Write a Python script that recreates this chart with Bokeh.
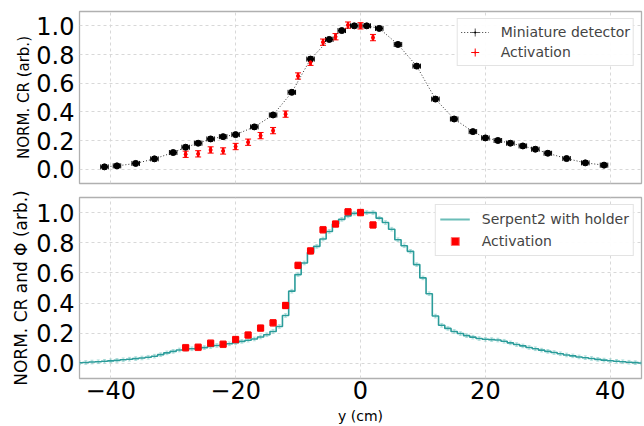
from bokeh.plotting import figure
from bokeh.layouts import column
from bokeh.models import (ColumnDataSource, Whisker, TeeHead, FixedTicker,
                          PrintfTickFormatter, Legend, LegendItem)
from bokeh.embed import file_html
from bokeh.resources import INLINE

# ---------------- data ----------------
mini_y_cm = [-41, -39, -36, -33, -30, -28, -26, -24, -22, -20, -17, -14, -11, -8, -5, -3,
             -1, 1, 3, 6, 9, 12, 15, 18, 20, 22, 24, 26, 28, 30, 33, 36, 39]
mini_cr = [0.016, 0.023, 0.040, 0.072, 0.116, 0.153, 0.181, 0.211, 0.227, 0.241, 0.295,
           0.378, 0.536, 0.768, 0.905, 0.967, 1.0, 1.0, 0.982, 0.870, 0.719, 0.489, 0.350,
           0.262, 0.218, 0.200, 0.181, 0.162, 0.139, 0.111, 0.074, 0.044, 0.028]
mini_err_cr = 0.015
mini_err_cm = 0.6

act_y_cm = [-28, -26, -24, -22, -20, -18, -16, -14, -12, -10, -8, -6, -4, -2, 0, 2]
act_cr = [0.104, 0.107, 0.134, 0.127, 0.158, 0.188, 0.234, 0.269, 0.384, 0.650, 0.746,
          0.886, 0.924, 1.005, 1.0, 0.918]
act_err_cr = 0.022
act_err_cm = 0.5

serpent_y_cm = list(range(-45, 46))
serpent_phi = [0.004, 0.006, 0.009, 0.011, 0.014, 0.017, 0.020, 0.024, 0.028, 0.032,
               0.036, 0.041, 0.048, 0.058, 0.070, 0.080, 0.089, 0.094, 0.097, 0.100,
               0.105, 0.112, 0.119, 0.124, 0.130, 0.138, 0.146, 0.154, 0.162, 0.175,
               0.190, 0.212, 0.245, 0.318, 0.479, 0.589, 0.666, 0.735, 0.776, 0.825,
               0.875, 0.925, 0.955, 0.978, 0.995, 1.0, 1.0, 1.0, 0.963, 0.934,
               0.890, 0.820, 0.780, 0.743, 0.655, 0.567, 0.462, 0.314, 0.253, 0.232,
               0.212, 0.198, 0.184, 0.174, 0.165, 0.160, 0.158, 0.155, 0.147, 0.136,
               0.125, 0.116, 0.106, 0.097, 0.088, 0.080, 0.072, 0.064, 0.056, 0.050,
               0.043, 0.038, 0.033, 0.027, 0.022, 0.018, 0.014, 0.011, 0.008, 0.005,
               0.003]
serpent_err = 0.012

x_ticks = [-40, -20, 0, 20, 40]
x_tick_labels = ["\u221240", "\u221220", "0", "20", "40"]
y_ticks = [0.0, 0.2, 0.4, 0.6, 0.8, 1.0]

FONT = "DejaVu Sans"
TEAL = "#2a9c9a"
NAN = float("nan")


def style(p):
    p.outline_line_color = "#b0b0b0"
    p.outline_line_width = 1.3
    p.background_fill_color = "white"
    p.border_fill_color = "white"
    for ax in p.axis:
        ax.axis_line_color = None
        ax.major_tick_line_color = None
        ax.minor_tick_line_color = None
        ax.major_tick_out = 0
        ax.major_tick_in = 0
        ax.major_label_text_font = FONT
        ax.major_label_text_font_size = "24px"
        ax.major_label_text_color = "black"
        ax.axis_label_text_font = FONT
        ax.axis_label_text_font_style = "normal"
        ax.axis_label_text_color = "black"
    p.xaxis.ticker = FixedTicker(ticks=x_ticks)
    p.xaxis.major_label_overrides = dict(zip(x_ticks, x_tick_labels))
    p.yaxis.ticker = FixedTicker(ticks=y_ticks)
    p.yaxis.formatter = PrintfTickFormatter(format="%.1f")
    p.yaxis.major_label_standoff = 5
    p.xgrid.ticker = FixedTicker(ticks=x_ticks)
    p.ygrid.ticker = FixedTicker(ticks=y_ticks)
    for g in p.grid:
        g.grid_line_color = "#d8d8d8"
        g.grid_line_dash = "3 3"
        g.grid_line_width = 1


def add_err(p, xs, ys, ex, ey, color, width=1.0, head=5, alpha=1.0, hwidth=None):
    src = ColumnDataSource(dict(
        x=xs, y=ys,
        xlo=[v - ex for v in xs], xhi=[v + ex for v in xs],
        ylo=[v - ey for v in ys], yhi=[v + ey for v in ys]))
    for dim, base, lo, hi, lw in (("height", "x", "ylo", "yhi", width),
                                  ("width", "y", "xlo", "xhi", hwidth or width)):
        w = Whisker(source=src, base=base, lower=lo, upper=hi, dimension=dim,
                    line_color=color, line_width=lw, line_alpha=alpha,
                    lower_head=TeeHead(size=head, line_color=color, line_width=1, line_alpha=alpha),
                    upper_head=TeeHead(size=head, line_color=color, line_width=1, line_alpha=alpha))
        p.add_layout(w)


def legend(items, glyph_width, padding, spacing):
    return Legend(items=items, location="top_right", margin=7, padding=padding,
                  spacing=spacing, label_height=20, glyph_height=20,
                  glyph_width=glyph_width, label_standoff=12,
                  label_text_font=FONT, label_text_font_size="14px",
                  border_line_color="#c8c8c8", border_line_width=1,
                  background_fill_alpha=0.95)


# ---------------- top panel ----------------
p1 = figure(width=644, height=190, x_range=(-45, 45), y_range=(-0.1, 1.1),
            output_backend="svg", toolbar_location=None,
            min_border_left=79, min_border_right=3, min_border_top=11, min_border_bottom=7)
style(p1)
p1.xaxis.visible = False
p1.yaxis.axis_label = "NORM. CR (arb.)"
p1.yaxis.axis_label_text_font_size = "15px"
p1.yaxis.axis_label_standoff = 0

r_line = p1.line(mini_y_cm, mini_cr, line_color="#333333", line_width=1, line_dash="1 2")
add_err(p1, mini_y_cm, mini_cr, mini_err_cm, mini_err_cr, "black", width=1.2, head=5)
r_mini = p1.scatter(mini_y_cm, mini_cr, marker="circle", size=6, fill_color="black",
                    line_color="black")
add_err(p1, act_y_cm, act_cr, 0.12, act_err_cr, "red", width=2.0, head=6, hwidth=1)
r_act = p1.scatter(act_y_cm, act_cr, marker="circle", size=3, fill_color="red",
                   line_color="red")

leg_mini_cross = p1.scatter([NAN], [NAN], marker="cross", size=8, line_color="#555555", line_width=1)
leg_mini_dot = p1.scatter([NAN], [NAN], marker="dot", size=8, line_color="black",
                          fill_color="black", line_width=2)
leg_act_cross = p1.scatter([NAN], [NAN], marker="cross", size=8, line_color="red", line_width=1)
leg_act_dot = p1.scatter([NAN], [NAN], marker="dot", size=8, line_color="red",
                         fill_color="red", line_width=1)

p1.add_layout(legend([LegendItem(label="Miniature detector",
                                 renderers=[r_line, leg_mini_cross, leg_mini_dot]),
                      LegendItem(label="Activation", renderers=[leg_act_cross, leg_act_dot])],
                     28, 3, 0))

# ---------------- bottom panel ----------------
p2 = figure(width=644, height=236, x_range=(-45, 45), y_range=(-0.1, 1.1),
            output_backend="svg", toolbar_location=None,
            min_border_left=79, min_border_right=3, min_border_top=7, min_border_bottom=46)
style(p2)
p2.yaxis.axis_label = "NORM. CR and \u03a6 (arb.)"
p2.yaxis.axis_label_text_font_size = "17px"
p2.yaxis.axis_label_standoff = 2
p2.xaxis.axis_label = "y (cm)"
p2.xaxis.axis_label_text_font_size = "14px"
p2.xaxis.axis_label_standoff = 6
p2.xaxis.major_label_standoff = 2

serp_src = ColumnDataSource(dict(
    x=serpent_y_cm, y=serpent_phi,
    lo=[v - serpent_err for v in serpent_phi], hi=[v + serpent_err for v in serpent_phi]))
p2.add_layout(Whisker(source=serp_src, base="x", lower="lo", upper="hi", dimension="height",
                      line_color="#7fc9c4", line_alpha=0.6, line_width=1,
                      lower_head=TeeHead(size=3, line_color="#7fc9c4", line_alpha=0.6),
                      upper_head=TeeHead(size=3, line_color="#7fc9c4", line_alpha=0.6)))
r_serp = p2.step(serpent_y_cm, serpent_phi, mode="center", line_color=TEAL, line_width=1.6)

add_err(p2, act_y_cm, act_cr, act_err_cm, act_err_cr, "#ff5a5a", width=1.2, head=6, alpha=0.8)
r_act2 = p2.scatter(act_y_cm, act_cr, marker="square", size=6, fill_color="red",
                    line_color="red")
leg_serp = p2.line([NAN, NAN], [NAN, NAN], line_color="#6bbdb8", line_width=2)
leg_act2_sq = p2.scatter([NAN], [NAN], marker="square", size=8, fill_color="red",
                         line_color="#ff7070", line_width=1)

p2.add_layout(legend([LegendItem(label="Serpent2 with holder", renderers=[leg_serp]),
                      LegendItem(label="Activation", renderers=[leg_act2_sq])],
                     30, 4, 2))

layout = column(p1, p2)
open("out.html", "w").write(file_html(layout, INLINE))
